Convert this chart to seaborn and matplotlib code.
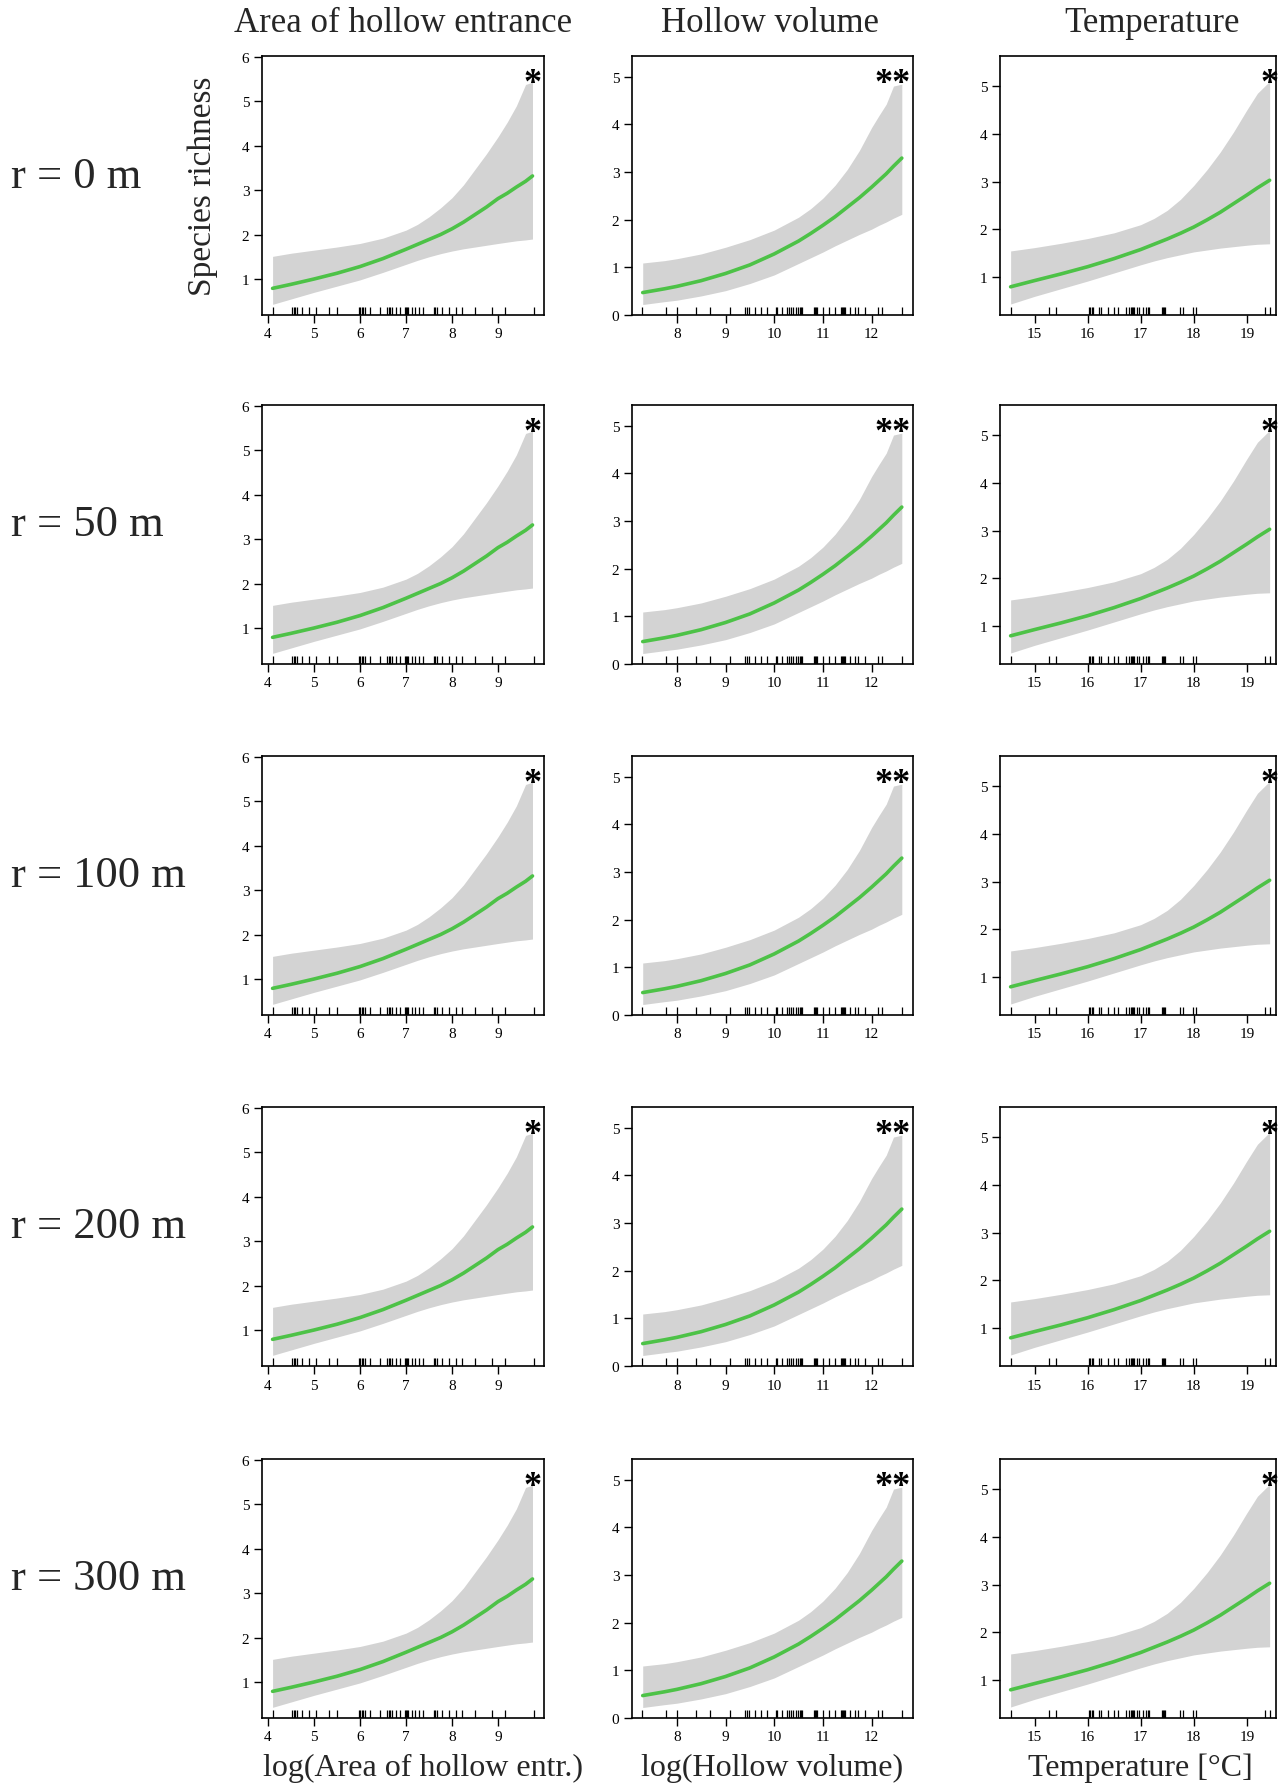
import matplotlib
matplotlib.use("Agg")
import matplotlib.pyplot as plt
import matplotlib.transforms as mtransforms
import seaborn as sns
import pandas as pd

# ==========================================
# Data
# ==========================================
row_labels = ["r = 0 m", "r = 50 m", "r = 100 m", "r = 200 m", "r = 300 m"]
col_titles = ["Area of hollow entrance", "Hollow volume", "Temperature"]
x_labels = ["log(Area of hollow entr.)", "log(Hollow volume)", "Temperature [°C]"]
signif = ["*", "**", "*"]

# log(Area of hollow entrance)
area_x = [4.1, 4.5, 5.0, 5.5, 6.0, 6.5, 7.0, 7.25, 7.5, 7.75, 8.0, 8.25, 8.5,
          8.75, 9.0, 9.2, 9.4, 9.6, 9.75]
area_fit = [0.79, 0.88, 1.0, 1.13, 1.28, 1.46, 1.67, 1.78, 1.89, 2.0, 2.13, 2.28,
            2.45, 2.62, 2.81, 2.93, 3.07, 3.2, 3.32]
area_upper = [1.51, 1.58, 1.65, 1.72, 1.8, 1.92, 2.1, 2.23, 2.4, 2.6, 2.83, 3.12,
              3.47, 3.82, 4.2, 4.53, 4.9, 5.38, 5.43]
area_lower = [0.43, 0.55, 0.7, 0.84, 0.98, 1.15, 1.33, 1.42, 1.5, 1.57, 1.63, 1.68,
              1.72, 1.76, 1.8, 1.83, 1.86, 1.88, 1.9]
area_rug = [4.11, 4.53, 4.56, 4.59, 4.62, 4.75, 4.9, 5.04, 5.32, 5.5, 5.98, 6.01,
            6.04, 6.07, 6.1, 6.22, 6.44, 6.58, 6.62, 6.66, 6.69, 6.79, 6.88, 6.98,
            7.0, 7.02, 7.04, 7.13, 7.2, 7.28, 7.38, 7.6, 7.64, 7.68, 7.79, 7.94,
            8.08, 8.21, 8.49, 8.86, 9.15, 9.78]

# log(Hollow volume)
vol_x = [7.3, 7.75, 8.0, 8.5, 9.0, 9.5, 10.0, 10.5, 10.75, 11.0, 11.25, 11.5,
         11.75, 12.0, 12.15, 12.3, 12.45, 12.62]
vol_fit = [0.47, 0.55, 0.6, 0.72, 0.87, 1.05, 1.28, 1.55, 1.71, 1.88, 2.06, 2.26,
           2.46, 2.68, 2.82, 2.96, 3.12, 3.29]
vol_upper = [1.09, 1.14, 1.18, 1.28, 1.42, 1.58, 1.78, 2.05, 2.23, 2.45, 2.72, 3.05,
             3.45, 3.93, 4.18, 4.42, 4.8, 4.84]
vol_lower = [0.22, 0.28, 0.31, 0.4, 0.51, 0.66, 0.84, 1.08, 1.2, 1.32, 1.45, 1.57,
             1.69, 1.8, 1.88, 1.95, 2.03, 2.11]
vol_rug = [7.28, 7.78, 8.01, 8.4, 8.68, 9.09, 9.4, 9.45, 9.49, 9.61, 9.73, 9.85,
           10.04, 10.05, 10.17, 10.26, 10.3, 10.35, 10.39, 10.44, 10.48, 10.52,
           10.55, 10.58, 10.82, 10.84, 10.86, 10.87, 11.01, 11.13, 11.25, 11.38,
           11.4, 11.42, 11.44, 11.46, 11.56, 11.66, 11.73, 11.86, 12.14, 12.21, 12.62]

# Temperature
temp_x = [14.55, 15.0, 15.5, 16.0, 16.5, 17.0, 17.25, 17.5, 17.75, 18.0, 18.25,
          18.5, 18.75, 19.0, 19.2, 19.43]
temp_fit = [0.8, 0.93, 1.07, 1.22, 1.39, 1.58, 1.69, 1.8, 1.92, 2.05, 2.2, 2.36,
            2.54, 2.72, 2.87, 3.03]
temp_upper = [1.55, 1.62, 1.71, 1.81, 1.93, 2.1, 2.23, 2.4, 2.63, 2.92, 3.25, 3.62,
              4.04, 4.5, 4.85, 5.1]
temp_lower = [0.44, 0.6, 0.76, 0.92, 1.09, 1.26, 1.34, 1.41, 1.47, 1.53, 1.57, 1.61,
              1.64, 1.67, 1.69, 1.7]
temp_rug = [14.55, 15.28, 15.41, 16.02, 16.05, 16.08, 16.11, 16.21, 16.25, 16.39,
            16.49, 16.57, 16.72, 16.78, 16.81, 16.84, 16.86, 16.88, 16.93, 16.96,
            17.05, 17.1, 17.13, 17.16, 17.4, 17.42, 17.44, 17.46, 17.74, 17.79,
            17.99, 18.04, 19.35, 19.43]

panels = [
    dict(x=area_x, fit=area_fit, up=area_upper, lo=area_lower, rug=area_rug,
         xlim=(3.87, 10.0), ylim=(0.19, 6.02), xticks=range(4, 10), yticks=range(1, 7), star_x=9.75),
    dict(x=vol_x, fit=vol_fit, up=vol_upper, lo=vol_lower, rug=vol_rug,
         xlim=(7.08, 12.85), ylim=(0.0, 5.43), xticks=range(8, 13), yticks=range(0, 6), star_x=12.44),
    dict(x=temp_x, fit=temp_fit, up=temp_upper, lo=temp_lower, rug=temp_rug,
         xlim=(14.35, 19.55), ylim=(0.21, 5.63), xticks=range(15, 20), yticks=range(1, 6), star_x=19.43),
]

# ==========================================
# Layout (pixel geometry of the original)
# ==========================================
W, H = 1285, 1790
col_left = [262, 632, 1000]
col_width = [282, 281, 276]
row_top = [57, 406, 757, 1108, 1460]
panel_h = 259

GREEN = "#4DC247"
BAND = "#D3D3D3"

sns.set_style("ticks")
plt.rcParams['font.family'] = ['Liberation Serif', 'DejaVu Serif']
plt.rcParams['axes.linewidth'] = 1.2

fig = plt.figure(figsize=(W / 100, H / 100), dpi=100)

for r, top in enumerate(row_top):
    for c, p in enumerate(panels):
        rect = [col_left[c] / W, 1 - (top + panel_h) / H, col_width[c] / W, panel_h / H]
        ax = fig.add_axes(rect)
        df = pd.DataFrame({"x": p["x"], "fit": p["fit"]})
        ax.fill_between(p["x"], p["lo"], p["up"], color=BAND, linewidth=0, zorder=1)
        sns.lineplot(data=df, x="x", y="fit", ax=ax, color=GREEN, linewidth=2.6, zorder=3)
        sns.rugplot(x=p["rug"], ax=ax, height=0.032, color="black", linewidth=0.9,
                    expand_margins=False)
        ax.set_xlim(*p["xlim"])
        ax.set_ylim(*p["ylim"])
        ax.set_xticks(list(p["xticks"]))
        ax.set_yticks(list(p["yticks"]))
        ax.tick_params(labelsize=11, length=6, width=1.0, pad=3, colors="black")
        ax.set_xlabel("")
        ax.set_ylabel("")
        for s in ax.spines.values():
            s.set_visible(True)
            s.set_color("black")
        trans = mtransforms.blended_transform_factory(ax.transData, ax.transAxes)
        ax.text(p["star_x"], 0.862, signif[c], transform=trans, ha="center",
                va="baseline", fontsize=26, fontweight="bold", color="black")

    # row label
    yc = top + panel_h / 2 - 10
    fig.text(11 / W, 1 - yc / H, row_labels[r], ha="left", va="center", fontsize=32)

# column titles
title_x = [403, 770, 1152]
for c, t in enumerate(col_titles):
    fig.text(title_x[c] / W, 1 - 23 / H, t, ha="center", va="center", fontsize=25)

# bottom axis labels
xlab_x = [423, 772, 1140]
for c, t in enumerate(x_labels):
    fig.text(xlab_x[c] / W, 1 - 1768 / H, t, ha="center", va="center", fontsize=23)

# y label
fig.text(203 / W, 1 - 186 / H, "Species richness", ha="center", va="center",
         rotation=90, fontsize=24)

plt.savefig("out.png", dpi=100)
plt.close()
